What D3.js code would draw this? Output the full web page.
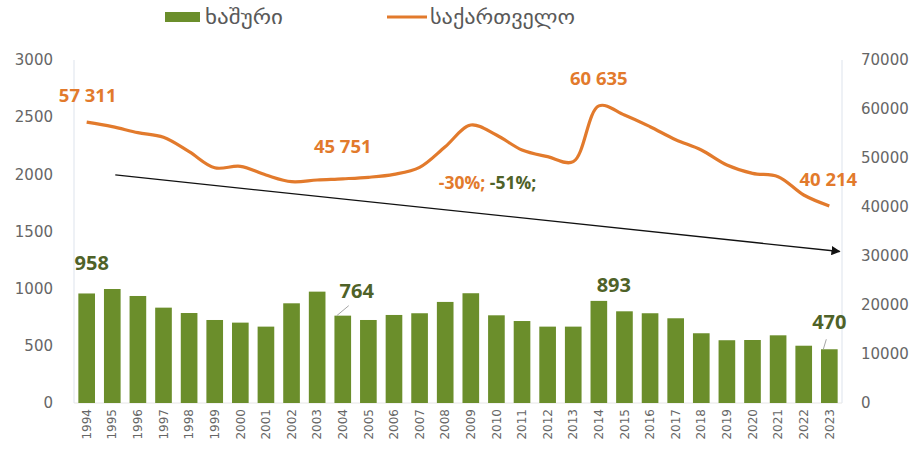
<!DOCTYPE html>
<html>
<head>
<meta charset="utf-8">
<script src="https://cdn.jsdelivr.net/npm/d3@7.9.0/dist/d3.min.js"></script>
<style>
  body { margin: 0; background: #fff; }
  svg { display: block; }
  .tick text { fill: #666; font-family: "DejaVu Sans", sans-serif; font-size: 15px; }
</style>
</head>
<body>
<svg id="chart" width="911" height="455"></svg>
<script>
// --- data ---
const years = d3.range(1994, 2024).map(String);
const khashuri = [958, 997, 936, 834, 787, 726, 703, 668, 872, 974,
                  764, 726, 770, 785, 884, 960, 767, 717, 668, 668,
                  893, 802, 785, 741, 610, 549, 551, 592, 501, 470];
const georgia = [57311, 56390, 55170, 54220, 51290, 48000, 48300, 46530, 45160, 45510,
                 45751, 46060, 46670, 48100, 52300, 56730, 54690, 51630, 50270, 49250,
                 60635, 58780, 56390, 53740, 51630, 48570, 46870, 46190, 42450, 40214];
const leftTicks = [0, 500, 1000, 1500, 2000, 2500, 3000];
const rightTicks = [0, 10000, 20000, 30000, 40000, 50000, 60000, 70000];
const seriesNames = ["ხაშური", "საქართველო"];
// labelled points (index into years)
const barLabels = [0, 10, 20, 29];
const lineLabels = [0, 10, 20, 29];
// trend arrow (left axis units)
const trendStart = { year: "1995", value: 1995 };
const trendEnd = { year: "2023", value: 1325 };

const green = "#6b8e2b";
const orange = "#e27a2c";
const labelGreen = "#4f6228";

const svg = d3.select("#chart");
const margin = { top: 60, bottom: 403, left: 74, right: 842 };

const x = d3.scaleBand().domain(years).range([margin.left, margin.right]).paddingInner(0.35).paddingOuter(0.17);
const yL = d3.scaleLinear().domain([0, 3000]).range([margin.bottom, margin.top]);
const yR = d3.scaleLinear().domain([0, 70000]).range([margin.bottom, margin.top]);

// frame lines
svg.append("line").attr("x1", margin.left).attr("x2", margin.left)
  .attr("y1", margin.top).attr("y2", margin.bottom).attr("stroke", "#dde3ec");
svg.append("line").attr("x1", margin.right).attr("x2", margin.right)
  .attr("y1", margin.top).attr("y2", margin.bottom).attr("stroke", "#dde3ec");
svg.append("line").attr("x1", margin.left).attr("x2", margin.right)
  .attr("y1", margin.bottom).attr("y2", margin.bottom).attr("stroke", "#e6e6e6");

// axes
const leftAxis = svg.append("g").attr("transform", `translate(${margin.left - 18},0)`)
  .call(d3.axisLeft(yL).tickValues(leftTicks).tickSize(0).tickFormat(d3.format("d")));
leftAxis.select(".domain").remove();

const rightAxis = svg.append("g").attr("transform", `translate(${margin.right + 16},0)`)
  .call(d3.axisRight(yR).tickValues(rightTicks).tickSize(0).tickFormat(d3.format("d")));
rightAxis.select(".domain").remove();

const xAxis = svg.append("g").attr("transform", `translate(0,${margin.bottom + 6})`)
  .call(d3.axisBottom(x).tickSize(0));
xAxis.select(".domain").remove();
xAxis.selectAll("text")
  .attr("transform", "rotate(-90)")
  .attr("text-anchor", "end")
  .attr("dx", 0).attr("dy", "0.35em").attr("x", 0).attr("y", 0)
  .style("font-size", "12px");

// bars
svg.append("g").selectAll("rect").data(khashuri).join("rect")
  .attr("x", (d, i) => x(years[i]))
  .attr("width", x.bandwidth())
  .attr("y", d => yL(d))
  .attr("height", d => yL(0) - yL(d))
  .attr("fill", green);

// line
const line = d3.line()
  .x((d, i) => x(years[i]) + x.bandwidth() / 2)
  .y(d => yR(d))
  .curve(d3.curveCatmullRom.alpha(0.5));
svg.append("path").datum(georgia)
  .attr("d", line)
  .attr("fill", "none")
  .attr("stroke", orange)
  .attr("stroke-width", 3.2)
  .attr("stroke-linejoin", "round");

// trend arrow
svg.append("defs").append("marker")
  .attr("id", "arrow").attr("viewBox", "0 0 10 10")
  .attr("refX", 9).attr("refY", 5)
  .attr("markerWidth", 7).attr("markerHeight", 7)
  .attr("orient", "auto")
  .append("path").attr("d", "M0,0 L10,5 L0,10 z").attr("fill", "#111");
svg.append("line")
  .attr("x1", x(trendStart.year) + x.bandwidth() / 2 + 3)
  .attr("y1", yL(trendStart.value))
  .attr("x2", x(trendEnd.year) + x.bandwidth() + 2)
  .attr("y2", yL(trendEnd.value))
  .attr("stroke", "#111").attr("stroke-width", 1.3)
  .attr("marker-end", "url(#arrow)");

const fmt = v => d3.format(",")(v).replace(/,/g, " ");
const cx = i => x(years[i]) + x.bandwidth() / 2;

// line labels
const lineLabelOffset = { 0: [1, -20], 10: [0, -26], 20: [0, -21], 29: [-1, -20] };
lineLabels.forEach(i => {
  const [dx, dy] = lineLabelOffset[i];
  svg.append("text")
    .attr("x", cx(i) + dx).attr("y", yR(georgia[i]) + dy)
    .attr("text-anchor", "middle")
    .attr("fill", orange)
    .style("font-family", "Open Sans, sans-serif")
    .style("font-size", "18.5px").style("font-weight", "bold")
    .text(fmt(georgia[i]));
});

// bar labels
const barLabelOffset = { 0: [5, -23], 10: [14, -18], 20: [15, -9], 29: [0, -20] };
barLabels.forEach(i => {
  const [dx, dy] = barLabelOffset[i];
  svg.append("text")
    .attr("x", cx(i) + dx).attr("y", yL(khashuri[i]) + dy)
    .attr("text-anchor", "middle")
    .attr("fill", labelGreen)
    .style("font-family", "Open Sans, sans-serif")
    .style("font-size", "20px").style("font-weight", "bold")
    .text(khashuri[i]);
});
// leader lines
[[10, 12, -10], [29, 3, -10]].forEach(([i, dx, dy]) => {
  svg.append("line")
    .attr("x1", cx(i) - 6).attr("y1", yL(khashuri[i]))
    .attr("x2", cx(i) - 6 + dx).attr("y2", yL(khashuri[i]) + dy)
    .attr("stroke", "#a6a6a6").attr("stroke-width", 1);
});

// percent change annotation
const pct = svg.append("text")
  .attr("x", x("2009") + x.bandwidth() / 2 - 32).attr("y", 189)
  .style("font-family", "Open Sans, sans-serif")
  .style("font-size", "17.5px").style("font-weight", "bold");
pct.append("tspan").attr("fill", orange).text("-30%; ");
pct.append("tspan").attr("fill", labelGreen).text("-51%;");

// legend
const legend = svg.append("g").style("font-family", "DejaVu Sans, sans-serif").style("font-size", "19px");
legend.append("rect").attr("x", 165).attr("y", 12).attr("width", 35).attr("height", 10).attr("fill", green);
legend.append("text").attr("x", 205).attr("y", 24).attr("fill", "#595959")
  .attr("textLength", 78).attr("lengthAdjust", "spacingAndGlyphs").text(seriesNames[0]);
legend.append("line").attr("x1", 387).attr("x2", 427).attr("y1", 17).attr("y2", 17)
  .attr("stroke", orange).attr("stroke-width", 3);
legend.append("text").attr("x", 430).attr("y", 24).attr("fill", "#595959")
  .attr("textLength", 145).attr("lengthAdjust", "spacingAndGlyphs").text(seriesNames[1]);
</script>
</body>
</html>
